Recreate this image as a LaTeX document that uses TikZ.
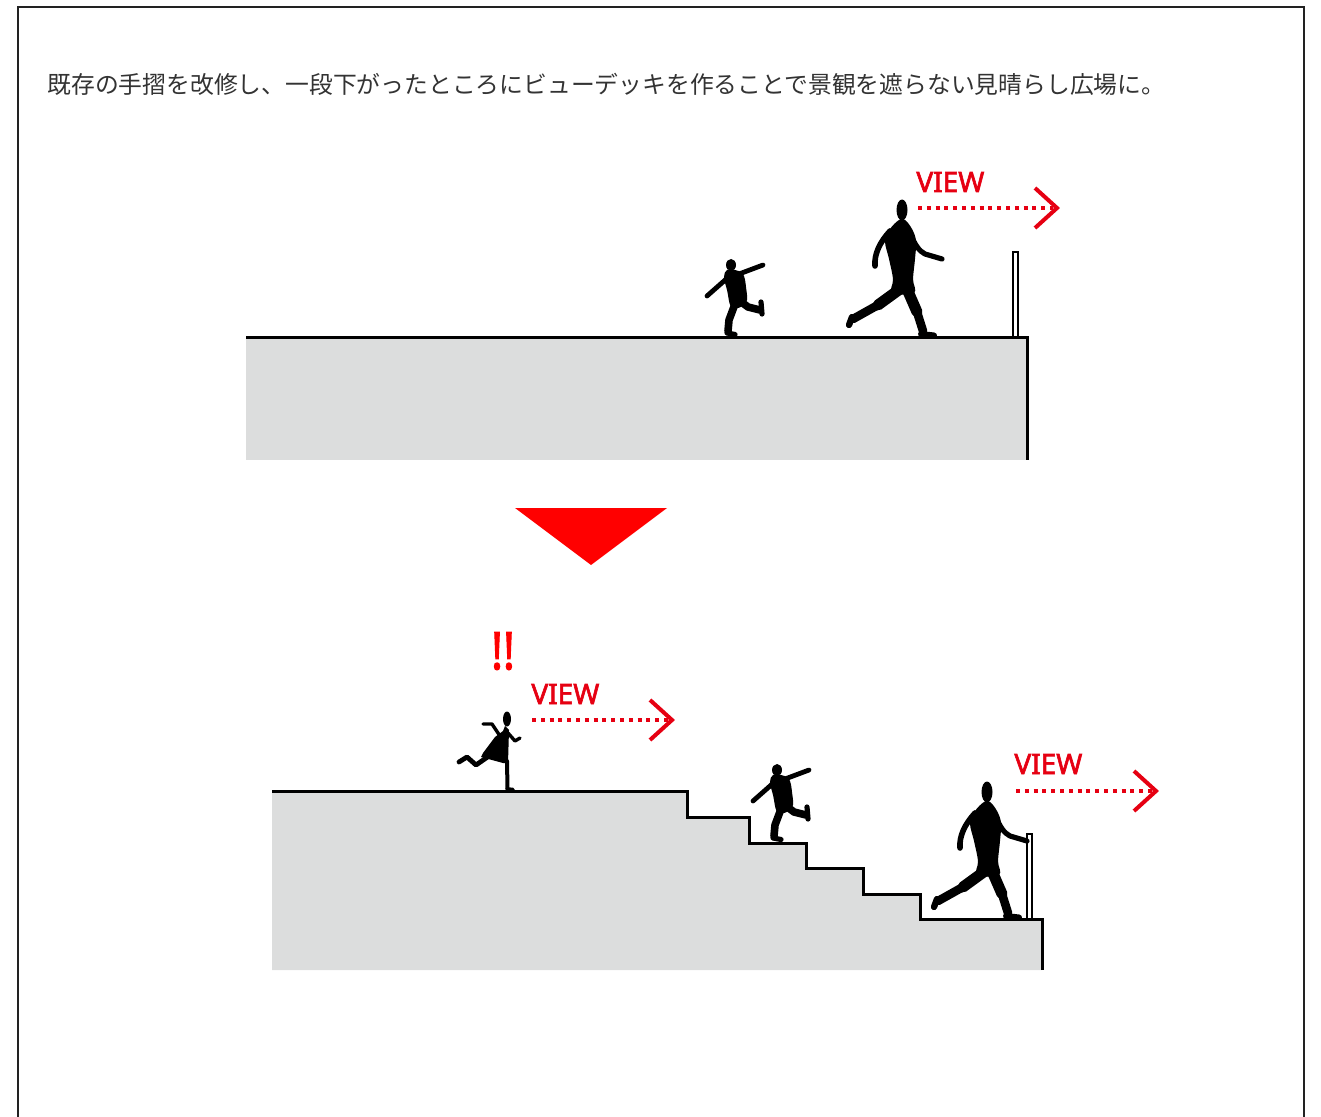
\documentclass[tikz,border=0pt]{standalone}
\usepackage{fontspec}
\setmainfont{Noto Sans}
\newfontfamily\jpfont{Noto Sans CJK JP}
\newfontfamily\viewfont[FakeBold=2.2]{Noto Sans}
\definecolor{deck}{HTML}{DCDDDD}
\definecolor{viewred}{HTML}{E60012}
\definecolor{markred}{HTML}{FF0000}
\definecolor{captxt}{HTML}{333333}
\definecolor{framecol}{HTML}{222222}

% walking adult, origin at the centre of the head
\newcommand\walkerfig{%
  \fill (0,1) ellipse [x radius=5.5, y radius=10.5];
  \fill plot[smooth cycle, tension=0.6] coordinates {(-3,11) (3,11) (10,20) (14,32) (13,50) (11,70) (12,84) (-10,84) (-9,70) (-13,50) (-17,32) (-12,20)};
  \draw[limb, line width=2.8pt] (-12,22) .. controls (-22,33) and (-28,45) .. (-27,57);
  \draw[limb, line width=2.6pt] (8,24) .. controls (13,36) and (17,42) .. (23,45) -- (40,50);
  \draw[limb, line width=5.5pt] (5,80) -- (15,103);
  \draw[limb, line width=4.3pt] (15,103) -- (21,122);
  \draw[limb, line width=3pt] (19,125) -- (32,126.5);
  \draw[limb, line width=5.5pt] (-2,80) -- (-24,96);
  \draw[limb, line width=4.3pt] (-24,96) -- (-49,110);
  \draw[limb, line width=3.2pt] (-50,108) -- (-53,116);
}
% kicking child, origin at the centre of the head
\newcommand\kidfig{%
  \fill (0,0) ellipse [x radius=5, y radius=6];
  \fill plot[smooth cycle, tension=0.6] coordinates {(-4,5) (4,5) (12,9) (15,22) (15,38) (1,43) (-4,25) (-7,12)};
  \draw[limb, line width=2.4pt] (8,9) -- (32,0);
  \draw[limb, line width=2.4pt] (-2,11) -- (-7,16) -- (-24,31);
  \draw[limb, line width=3.8pt] (9,36) -- (17,42) -- (29,45);
  \draw[limb, line width=2.6pt] (30,37) -- (31,49);
  \draw[limb, line width=3.8pt] (4,39) -- (-2,55) -- (-3,66);
  \draw[limb, line width=2.6pt] (-4,68) -- (4,69.5);
}
% startled girl, origin at the centre of the head
\newcommand\girlfig{%
  \fill (0,0) ellipse [x radius=4, y radius=7.5];
  \fill (-2,7) -- (-4,12) -- (-12,18) -- (-24,34) -- (-26,38) -- (-4,44) -- (1,44) -- (2,11) -- cycle;
  \draw[limb, line width=2pt] (0,42) -- (0.5,70);
  \draw[limb, line width=1.8pt] (0,70) -- (6,70.5);
  \draw[limb, line width=2.4pt] (-18,37) -- (-31,46) -- (-40,38) -- (-48,43);
  \draw[limb, line width=1.7pt] (-7,17) -- (-15,5) -- (-24,5);
  \draw[limb, line width=1.7pt] (1,14) -- (8,22) -- (13,19);
}

\begin{document}
\begin{tikzpicture}[x=0.5pt, y=-0.5pt,
  limb/.style={line cap=round, line join=round},
  edge/.style={line width=1.5pt, line join=miter},
  rail/.style={draw, fill=white, line width=0.8pt},
  viewlbl/.style={font=\viewfont\fontsize{14}{14}\selectfont, text=viewred, inner sep=0pt, anchor=west},
  viewdots/.style={draw=viewred, line width=2pt, dash pattern=on 2pt off 2.4pt},
  chev/.style={draw=viewred, line width=2pt, line join=miter}]
\useasboundingbox (0,0) rectangle (1321,1117);
\clip (0,0) rectangle (1321,1117);

% outer frame, open at the bottom
\draw[framecol, line width=1.4pt] (18,1130) -- (18,7) -- (1304,7) -- (1304,1130);

% caption
\node[anchor=west, inner sep=0pt, text=captxt, font=\jpfont\fontsize{11.9}{14}\selectfont] (caption) at (47,84)
  {既存の手摺を改修し、一段下がったところにビューデッキを作ることで景観を遮らない見晴らし広場に。};

% ---- existing deck ----
\fill[deck] (246,338) rectangle (1027,460);
\draw[rail] (1013,252) rectangle (1018,338);
\draw[edge] (246,338) -- (1027,338) -- (1027,460);

\begin{scope}[shift={(731,265)}] \kidfig \end{scope}
\begin{scope}[shift={(902,209)}] \walkerfig \end{scope}

\node[viewlbl] (viewA) at (916,182) {VIEW};
\coordinate (viewAs) at (918,208);
\coordinate (viewAt) at (1057,208);
\draw[viewdots] (viewAs) -- ([xshift=-2pt]viewAt);
\draw[chev] ([shift={(-22,-20)}]viewAt) -- (viewAt) -- ([shift={(-22,20)}]viewAt);

% ---- transition marker ----
\fill[markred] (515,508) -- (667,508) -- (591,565) -- cycle;

% ---- renovated deck with steps ----
\fill[deck] (272,791) -- (687,791) -- (687,817) -- (749,817) -- (749,843) -- (806,843) -- (806,868)
  -- (863,868) -- (863,894) -- (920,894) -- (920,919) -- (1042,919) -- (1042,970) -- (272,970) -- cycle;
\draw[rail] (1027,834) rectangle (1032,919);
\draw[edge] (272,791) -- (687,791) -- (687,817) -- (749,817) -- (749,843) -- (806,843) -- (806,868)
  -- (863,868) -- (863,894) -- (920,894) -- (920,919) -- (1042,919) -- (1042,970);

\begin{scope}[shift={(507,719)}] \girlfig \end{scope}
\begin{scope}[shift={(777,770)}] \kidfig \end{scope}
\begin{scope}[shift={(987,791)}] \walkerfig \end{scope}

\node[font=\viewfont\fontsize{26}{26}\selectfont, text=markred, inner sep=0pt, xscale=0.85] (alert) at (503,651) {!!};

\node[viewlbl] (viewB) at (531,694) {VIEW};
\coordinate (viewBs) at (532,720);
\coordinate (viewBt) at (672,720);
\draw[viewdots] (viewBs) -- ([xshift=-2pt]viewBt);
\draw[chev] ([shift={(-22,-20)}]viewBt) -- (viewBt) -- ([shift={(-22,20)}]viewBt);

\node[viewlbl] (viewC) at (1014,764) {VIEW};
\coordinate (viewCs) at (1016,791);
\coordinate (viewCt) at (1156,791);
\draw[viewdots] (viewCs) -- ([xshift=-2pt]viewCt);
\draw[chev] ([shift={(-22,-20)}]viewCt) -- (viewCt) -- ([shift={(-22,20)}]viewCt);
\end{tikzpicture}
\end{document}
